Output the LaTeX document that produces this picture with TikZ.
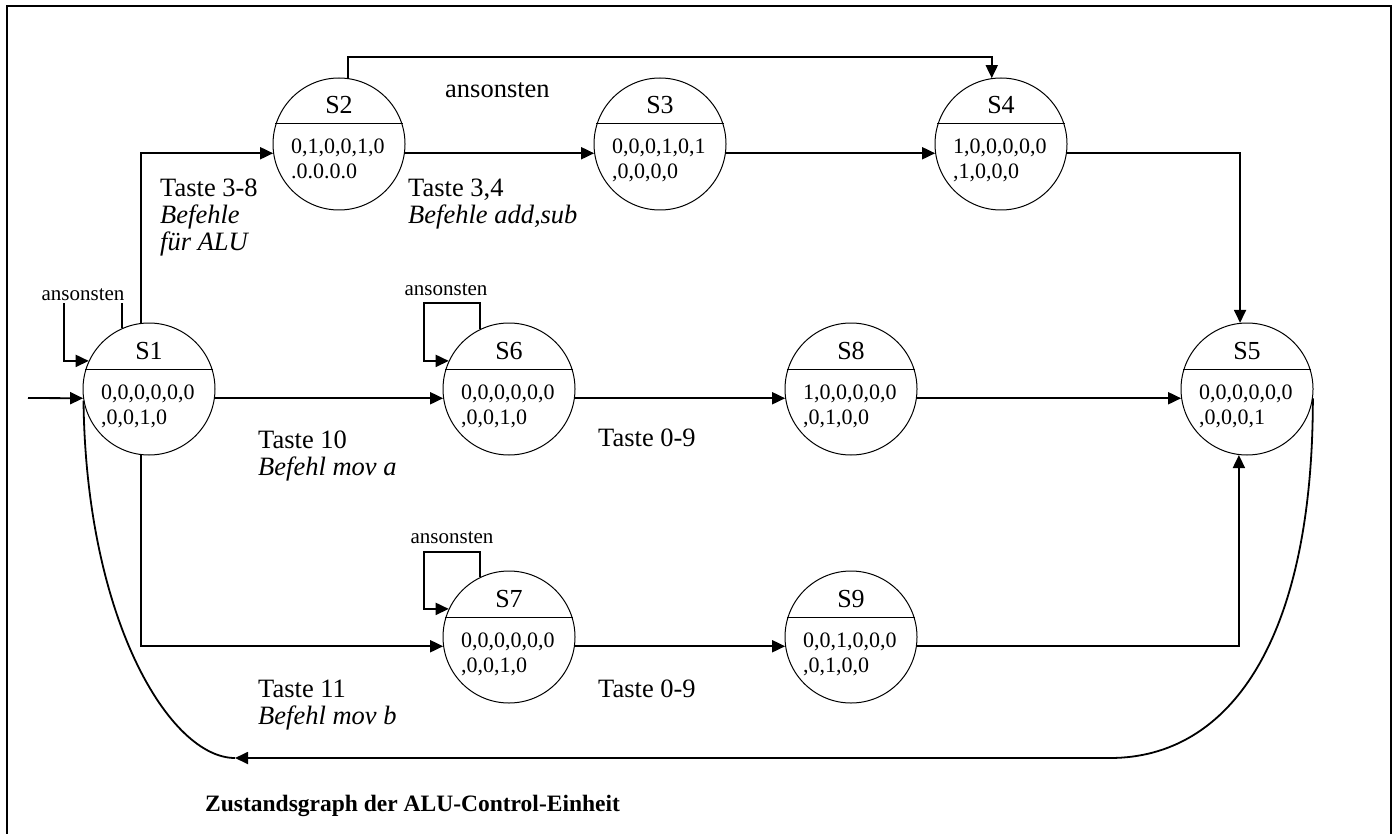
\documentclass[tikz,border=0pt]{standalone}
\usepackage{fontspec}
\setmainfont{Liberation Serif}
\usetikzlibrary{arrows.meta}
\newcommand{\zst}[6]{%
  \node[zcirc] (#1) at (#2,#3) {};
  \draw[line width=1pt] ([shift={(-64,-20)}]#1.center) -- ([shift={(64,-20)}]#1.center);
  \node[namefont, anchor=base] (#1-name) at ([shift={(0,-30)}]#1.center) {#4};
  \node[numfont, anchor=base west] (#1-a) at ([shift={(-48,10)}]#1.center) {#5};
  \node[numfont, anchor=base west] (#1-b) at ([shift={(-48,35)}]#1.center) {#6};
}
\begin{document}
\begin{tikzpicture}[x=1pt,y=-1pt,
  zcirc/.style={circle,draw,line width=1pt,minimum size=132pt,inner sep=0pt},
  arr/.style={line width=1.8pt,-{Triangle[length=13pt,width=12pt]}},
  conn/.style={line width=1.8pt},
  namefont/.style={inner sep=0pt,font=\fontsize{26pt}{30pt}\selectfont},
  numfont/.style={inner sep=0pt,font=\fontsize{22pt}{26pt}\selectfont},
  lbl/.style={anchor=base west,inner sep=0pt,font=\fontsize{26.5pt}{30pt}\selectfont},
  ilbl/.style={anchor=base west,inner sep=0pt,font=\fontsize{26.5pt}{30pt}\selectfont\itshape},
  slbl/.style={inner sep=1.5pt,font=\fontsize{21pt}{24pt}\selectfont},
]
\useasboundingbox (0,0) rectangle (1396,834);
\draw[line width=2pt] (7,834) -- (7,6) -- (1391,6) -- (1391,834);

\zst{s1}{149}{389}{S1}{0,0,0,0,0,0}{,0,0,1,0}
\zst{s2}{339}{144}{S2}{0,1,0,0,1,0}{.0.0.0.0}
\zst{s3}{660}{144}{S3}{0,0,0,1,0,1}{,0,0,0,0}
\zst{s4}{1001}{144}{S4}{1,0,0,0,0,0}{,1,0,0,0}
\zst{s5}{1247}{389}{S5}{0,0,0,0,0,0}{,0,0,0,1}
\zst{s6}{509}{389}{S6}{0,0,0,0,0,0}{,0,0,1,0}
\zst{s8}{851}{389}{S8}{1,0,0,0,0,0}{,0,1,0,0}
\zst{s7}{509}{637}{S7}{0,0,0,0,0,0}{,0,0,1,0}
\zst{s9}{851}{637}{S9}{0,0,1,0,0,0}{,0,1,0,0}

\coordinate (in) at (28,398);
\coordinate (l1) at (64,290);
\coordinate (l6) at (424,303);
\coordinate (l7) at (424,552);
\coordinate (tl) at (0,57);
\coordinate (br) at (1110,758);
\coordinate (bl) at (235,758);

% connectors
\draw[arr] (in) -- (s1.-172);
\draw[arr] (s1.114) |- (l1) |- (s1.155);
\draw[arr] (s1.97) |- (s2.-172);
\draw[arr] (s1.-8) -- (s6.-172);
\draw[arr] (s1.-97) |- (s7.-172);
\draw[arr] (s2.-8) -- (s3.-172);
\draw[arr] (s3.-8) -- (s4.-172);
\draw[arr] (s2.82) -- (s2.82 |- tl) -| (s4.98);
\draw[arr] (s4.-8) -| (s5.96);
\draw[arr] (s6.116) |- (l6) |- (s6.155);
\draw[arr] (s6.-8) -- (s8.-172);
\draw[arr] (s8.-8) -- (s5.-172);
\draw[arr] (s7.116) |- (l7) |- (s7.155);
\draw[arr] (s7.-8) -- (s9.-172);
\draw[arr] (s9.-8) -| (s5.-97);
\draw[arr] (s5.-8) .. controls (1313,640) and (1230,758) .. (br) -- (bl);
\draw[conn] (bl) .. controls (170,758) and (86,620) .. (s1.190);

% labels
\node[slbl, fill=white] (a1) at (83,295) {ansonsten};
\node[slbl] (a6) at (446,290) {ansonsten};
\node[slbl] (a7) at (452,538) {ansonsten};
\node[lbl] (a2) at (445,98) {ansonsten};
\node[lbl] (t38) at (160,197) {Taste 3-8};
\node[ilbl] (b38) at (160,224) {Befehle};
\node[ilbl] (c38) at (160,251) {für ALU};
\node[lbl] (t34) at (408,197) {Taste 3,4};
\node[ilbl] (b34) at (408,224) {Befehle add,sub};
\node[lbl] (t10) at (258,448) {Taste 10};
\node[ilbl] (b10) at (258,475) {Befehl mov a};
\node[lbl] (t09a) at (598,446) {Taste 0-9};
\node[lbl] (t11) at (258,697) {Taste 11};
\node[ilbl] (b11) at (258,724) {Befehl mov b};
\node[lbl] (t09b) at (598,697) {Taste 0-9};
\node[anchor=base west,inner sep=0pt,font=\fontsize{23.5pt}{27pt}\selectfont\bfseries] (title) at (205,811) {Zustandsgraph der ALU-Control-Einheit};
\end{tikzpicture}
\end{document}
